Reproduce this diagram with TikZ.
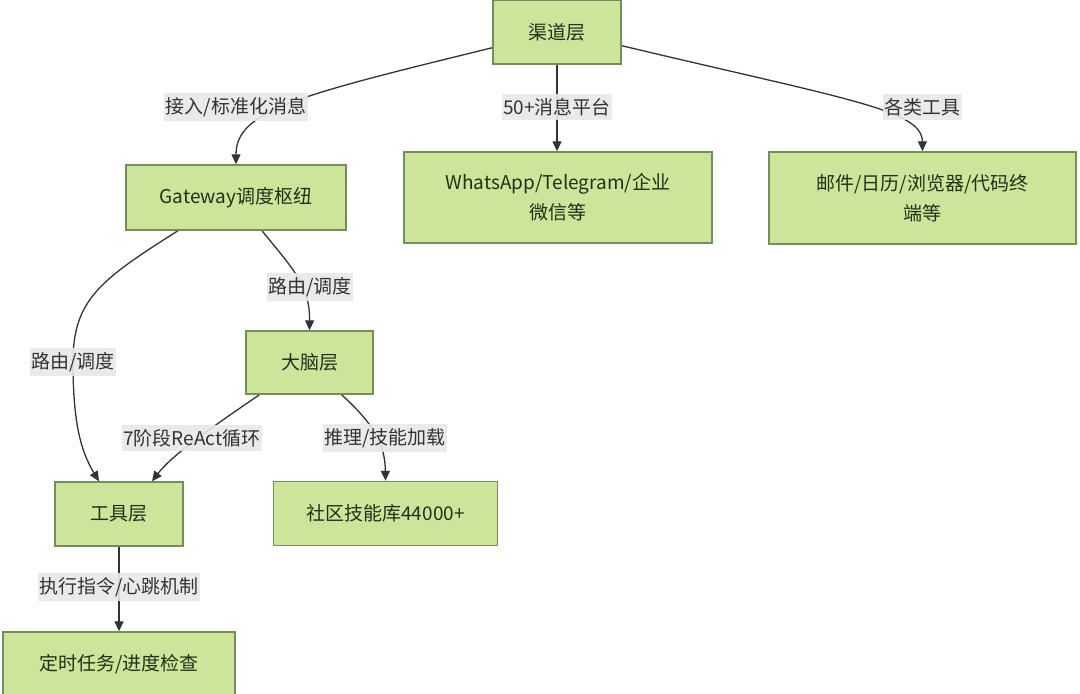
\documentclass[tikz,border=0pt]{standalone}
\usepackage{fontspec}
\setmainfont{Noto Sans CJK SC}
\usetikzlibrary{arrows.meta,backgrounds,calc}
\definecolor{boxfill}{HTML}{CDE59B}
\definecolor{boxdraw}{HTML}{738F5A}
\definecolor{boxtext}{HTML}{22301A}
\definecolor{edgecol}{HTML}{333333}
\definecolor{lblfill}{HTML}{E8E8E8}
\tikzset{
  box/.style={draw=boxdraw, fill=boxfill, line width=1.4pt, text=boxtext,
    font=\fontsize{19}{30}\selectfont, align=center, inner sep=0pt},
  lbl/.style={fill=lblfill, fill opacity=0.9, text opacity=1, text=edgecol,
    font=\fontsize{19}{22}\selectfont, inner xsep=1.5pt, inner ysep=4pt},
  conn/.style={draw=edgecol, line width=1.3pt, -{Triangle[length=10pt,width=9pt]}}
}
\begin{document}
\begin{tikzpicture}[x=1pt,y=-1pt]
\useasboundingbox (0,0) rectangle (1080,694);
% boxes
\node[box, minimum width=128pt, minimum height=64pt] (q) at (557,32) {渠道层};
\node[box, minimum width=308pt, minimum height=91pt] (wa) at (558,197.5) {WhatsApp/Telegram/企业\\微信等};
\node[box, minimum width=307pt, minimum height=92pt] (tb) at (922.5,198) {邮件/日历/浏览器/代码终\\端等};
\node[box, minimum width=220pt, minimum height=65pt] (gw) at (236,197.5) {Gateway调度枢纽};
\node[box, minimum width=127pt, minimum height=63pt] (b) at (309.5,362.5) {大脑层};
\node[box, minimum width=128pt, minimum height=64pt] (tl) at (119,514) {工具层};
\node[box, minimum width=224pt, minimum height=64pt] (c) at (385.5,513.5) {社区技能库44000+};
\node[box, minimum width=232pt, minimum height=64pt] (t) at (119,664) {定时任务/进度检查};
% edge labels
\node[lbl] (l1) at (236,107) {接入/标准化消息};
\node[lbl] (l2) at (557,107) {50+消息平台};
\node[lbl] (l3) at (922,107) {各类工具};
\node[lbl] (l4) at (310,287) {路由/调度};
\node[lbl] (l5) at (73,362) {路由/调度};
\node[lbl] (l6) at (192,438) {7阶段ReAct循环};
\node[lbl] (l7) at (385,438) {推理/技能加载};
\node[lbl] (l8) at (119,587) {执行指令/心跳机制};
% connectors
\begin{pgfonlayer}{background}
\fill[white] (0,0) rectangle (1080,694);
\coordinate (s1) at ($(q.south west)+(0,-17)$);
\draw[conn] (s1) .. controls (300,95) and (236,110) .. (gw.north);
\draw[conn] (q.south) -- (q.south |- wa.north);
\coordinate (s3) at ($(q.south east)+(0,-19)$);
\draw[conn] (s3) .. controls (850,100) and (922,110) .. (tb.north);
\coordinate (s4) at ($(gw.south)+(26,0)$);
\draw[conn] (s4) .. controls (292,268) and (310,285) .. (b.north);
\coordinate (s5) at ($(gw.south)+(-58,0)$);
\coordinate (e5) at ($(tl.north)+(-20,0)$);
\draw[conn] (s5) .. controls (100,280) and (73,300) .. (l5.center) .. controls (73,420) and (80,450) .. (e5);
\coordinate (s6) at ($(b.south)+(-50,0)$);
\coordinate (e6) at ($(tl.north)+(33,0)$);
\draw[conn] (s6) .. controls (215,425) and (172,455) .. (e6);
\coordinate (s7) at ($(b.south)+(32,0)$);
\draw[conn] (s7) .. controls (375,425) and (385,445) .. (c.north);
\draw[conn] (tl.south) -- (t.north);
\end{pgfonlayer}
\end{tikzpicture}
\end{document}
